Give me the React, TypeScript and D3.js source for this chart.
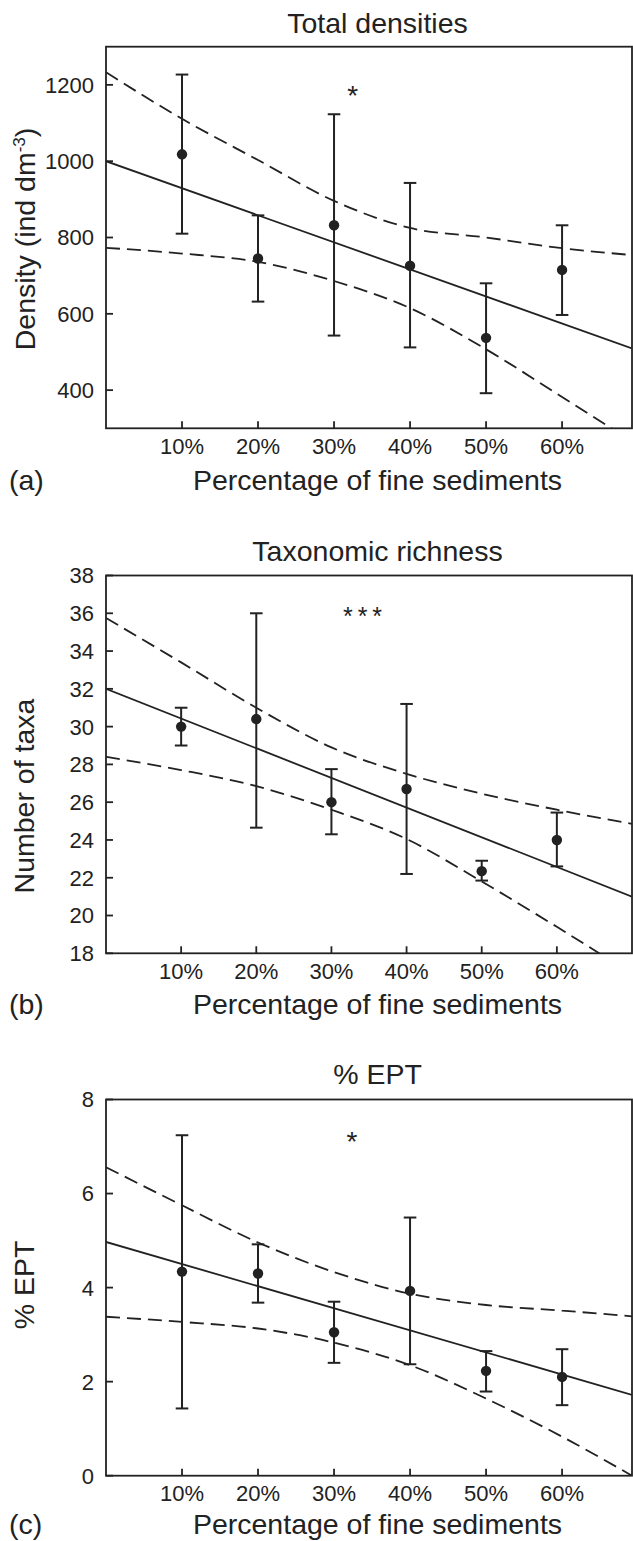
import React from "react";
import * as d3 from "d3";

// Shared x categories (percentage of fine sediments)
const sedimentPct = [10, 20, 30, 40, 50, 60];
const sedimentTickLabels = ["10%", "20%", "30%", "40%", "50%", "60%"];

// (a) Total densities (ind dm-3): means with error bar ends
const densityMean = [1018, 745, 832, 726, 537, 715];
const densityHigh = [1227, 858, 1123, 943, 680, 832];
const densityLow = [810, 632, 543, 512, 392, 597];
const densityTicks = [400, 600, 800, 1000, 1200];
const densityFitX = [0, 69.2];
const densityFitY = [1000, 509.5];
const densityBandX = [0, 10, 20, 30, 40, 50, 60, 69.2];
const densityBandHigh = [1233, 1111, 1003, 896, 825, 800, 772, 754];
const densityBandLow = [773, 758, 736, 686, 615, 507, 382, 266];

// (b) Taxonomic richness (number of taxa)
const richnessMean = [30.0, 30.4, 26.0, 26.7, 22.35, 24.0];
const richnessHigh = [31.0, 36.0, 27.75, 31.2, 22.9, 25.45];
const richnessLow = [29.0, 24.65, 24.3, 22.2, 21.85, 22.6];
const richnessTicks = [18, 20, 22, 24, 26, 28, 30, 32, 34, 36, 38];
const richnessFitX = [0, 70];
const richnessFitY = [32.0, 21.0];
const richnessBandX = [0, 10, 20, 30, 40, 50, 60, 70];
const richnessBandHigh = [35.75, 33.4, 31.0, 28.9, 27.5, 26.45, 25.6, 24.85];
const richnessBandLow = [28.4, 27.7, 26.85, 25.6, 24.05, 21.8, 19.4, 16.9];

// (c) % EPT
const eptMean = [4.34, 4.3, 3.05, 3.93, 2.23, 2.1];
const eptHigh = [7.24, 4.92, 3.7, 5.49, 2.65, 2.69];
const eptLow = [1.43, 3.68, 2.4, 2.37, 1.79, 1.5];
const eptTicks = [0, 2, 4, 6, 8];
const eptFitX = [0, 69.2];
const eptFitY = [4.97, 1.72];
const eptBandX = [0, 10, 20, 30, 40, 50, 60, 69.2];
const eptBandHigh = [6.56, 5.75, 4.96, 4.33, 3.87, 3.63, 3.51, 3.39];
const eptBandLow = [3.38, 3.27, 3.13, 2.83, 2.35, 1.64, 0.83, 0.0];

const INK = "#222";
const FONT = "'Liberation Sans', Arial, Helvetica, sans-serif";
const WIDTH = 633;
const HEIGHT = 1541;
const LEFT = 106;
const RIGHT = 632;
const CENTER_X = 377.5;

type Panel = {
  id: string;
  title: string;
  tag: string;
  stars: string;
  starSize: number;
  starSpacing: number;
  yLabel: React.ReactNode;
  mean: number[];
  high: number[];
  low: number[];
  ticks: number[];
  domain: [number, number];
  xMax: number;
  fitX: number[];
  fitY: number[];
  bandX: number[];
  bandHigh: number[];
  bandLow: number[];
  top: number;
  bottom: number;
  titleY: number;
  xLabelGap: number;
  yLabelX: number;
  yLabelY: number;
  starX: number;
  starY: number;
};

const panels: Panel[] = [
  {
    id: "a",
    title: "Total densities",
    tag: "(a)",
    stars: "*",
    starSize: 28,
    starSpacing: 0,
    yLabel: (
      <>
        Density (ind dm
        <tspan dy={-10} fontSize={17}>
          -3
        </tspan>
        <tspan dy={10}>)</tspan>
      </>
    ),
    mean: densityMean,
    high: densityHigh,
    low: densityLow,
    ticks: densityTicks,
    domain: [300, 1300],
    xMax: 69.2,
    fitX: densityFitX,
    fitY: densityFitY,
    bandX: densityBandX,
    bandHigh: densityBandHigh,
    bandLow: densityBandLow,
    top: 46.7,
    bottom: 428.3,
    titleY: 33.3,
    xLabelGap: 62,
    yLabelX: 35,
    yLabelY: 239,
    starX: 352.7,
    starY: 88.3,
  },
  {
    id: "b",
    title: "Taxonomic richness",
    tag: "(b)",
    stars: "***",
    starSize: 25,
    starSpacing: 5,
    yLabel: "Number of taxa",
    mean: richnessMean,
    high: richnessHigh,
    low: richnessLow,
    ticks: richnessTicks,
    domain: [18, 38],
    xMax: 70,
    fitX: richnessFitX,
    fitY: richnessFitY,
    bandX: richnessBandX,
    bandHigh: richnessBandHigh,
    bandLow: richnessBandLow,
    top: 575.5,
    bottom: 953.3,
    titleY: 561,
    xLabelGap: 61,
    yLabelX: 34,
    yLabelY: 796,
    starX: 365,
    starY: 610.5,
  },
  {
    id: "c",
    title: "% EPT",
    tag: "(c)",
    stars: "*",
    starSize: 28,
    starSpacing: 0,
    yLabel: "% EPT",
    mean: eptMean,
    high: eptHigh,
    low: eptLow,
    ticks: eptTicks,
    domain: [0, 8],
    xMax: 69.2,
    fitX: eptFitX,
    fitY: eptFitY,
    bandX: eptBandX,
    bandHigh: eptBandHigh,
    bandLow: eptBandLow,
    top: 1099.5,
    bottom: 1475.7,
    titleY: 1084.3,
    xLabelGap: 58.5,
    yLabelX: 34,
    yLabelY: 1285,
    starX: 352,
    starY: 1135,
  },
];

function RegressionPanel({ p }: { p: Panel }) {
  const x = d3.scaleLinear().domain([0, p.xMax]).range([LEFT, RIGHT]);
  const y = d3.scaleLinear().domain(p.domain).range([p.bottom, p.top]);

  const curve = d3
    .line<[number, number]>()
    .x((d) => x(d[0]))
    .y((d) => y(d[1]))
    .curve(d3.curveMonotoneX);
  const straight = d3
    .line<[number, number]>()
    .x((d) => x(d[0]))
    .y((d) => y(d[1]));

  const highPts = p.bandX.map((v, i) => [v, p.bandHigh[i]] as [number, number]);
  const lowPts = p.bandX.map((v, i) => [v, p.bandLow[i]] as [number, number]);
  const fitPts = p.fitX.map((v, i) => [v, p.fitY[i]] as [number, number]);
  const clipId = `plot-clip-${p.id}`;
  const cap = 6.3;
  const tickLen = 7;

  return (
    <g>
      <defs>
        <clipPath id={clipId}>
          <rect x={LEFT} y={p.top} width={RIGHT - LEFT} height={p.bottom - p.top} />
        </clipPath>
      </defs>

      {/* title */}
      <text x={CENTER_X} y={p.titleY} textAnchor="middle" fontSize={28.5} fill={INK}>
        {p.title}
      </text>

      {/* confidence band and fitted line */}
      <g clipPath={`url(#${clipId})`} fill="none" stroke={INK}>
        <path d={curve(highPts) || ""} strokeWidth={1.8} strokeDasharray="14 7" />
        <path d={curve(lowPts) || ""} strokeWidth={1.8} strokeDasharray="14 7" />
        <path d={straight(fitPts) || ""} strokeWidth={1.8} />
      </g>

      {/* error bars and means */}
      <g stroke={INK} strokeWidth={2}>
        {sedimentPct.map((v, i) => (
          <g key={v}>
            <line x1={x(v)} x2={x(v)} y1={y(p.high[i])} y2={y(p.low[i])} />
            <line x1={x(v) - cap} x2={x(v) + cap} y1={y(p.high[i])} y2={y(p.high[i])} />
            <line x1={x(v) - cap} x2={x(v) + cap} y1={y(p.low[i])} y2={y(p.low[i])} />
          </g>
        ))}
      </g>
      <g fill={INK}>
        {sedimentPct.map((v, i) => (
          <circle key={v} cx={x(v)} cy={y(p.mean[i])} r={5.2} />
        ))}
      </g>

      {/* frame */}
      <rect
        x={LEFT}
        y={p.top}
        width={RIGHT - LEFT}
        height={p.bottom - p.top}
        fill="none"
        stroke={INK}
        strokeWidth={1.8}
      />

      {/* inward ticks */}
      <g stroke={INK} strokeWidth={1.8}>
        {p.ticks.map((t) => (
          <line key={t} x1={LEFT} x2={LEFT + tickLen} y1={y(t)} y2={y(t)} />
        ))}
        {sedimentPct.map((v) => (
          <line key={v} x1={x(v)} x2={x(v)} y1={p.bottom} y2={p.bottom - tickLen} />
        ))}
      </g>
      <g fontSize={22} fill={INK}>
        {p.ticks.map((t) => (
          <text key={t} x={94} y={y(t)} dy="0.36em" textAnchor="end">
            {t}
          </text>
        ))}
        {sedimentPct.map((v, i) => (
          <text key={v} x={x(v)} y={p.bottom + 25.5} textAnchor="middle">
            {sedimentTickLabels[i]}
          </text>
        ))}
      </g>

      {/* significance marker */}
      <text
        x={p.starX}
        y={p.starY + p.starSize * 0.58}
        textAnchor="middle"
        fontSize={p.starSize}
        letterSpacing={p.starSpacing}
        fill={INK}
      >
        {p.stars}
      </text>

      {/* axis labels */}
      <text
        transform={`translate(${p.yLabelX},${p.yLabelY}) rotate(-90)`}
        textAnchor="middle"
        fontSize={28.5}
        fill={INK}
      >
        {p.yLabel}
      </text>
      <text x={CENTER_X} y={p.bottom + p.xLabelGap} textAnchor="middle" fontSize={28.5} fill={INK}>
        Percentage of fine sediments
      </text>
      <text x={9} y={p.bottom + p.xLabelGap} fontSize={28.5} fill={INK}>
        {p.tag}
      </text>
    </g>
  );
}

export default function App() {
  return (
    <svg
      width={WIDTH}
      height={HEIGHT}
      viewBox={`0 0 ${WIDTH} ${HEIGHT}`}
      style={{ position: "absolute", left: 0, top: 0, display: "block", background: "#fff" }}
      fontFamily={FONT}
    >
      <rect width={WIDTH} height={HEIGHT} fill="#fff" />
      {panels.map((p) => (
        <RegressionPanel key={p.id} p={p} />
      ))}
    </svg>
  );
}
